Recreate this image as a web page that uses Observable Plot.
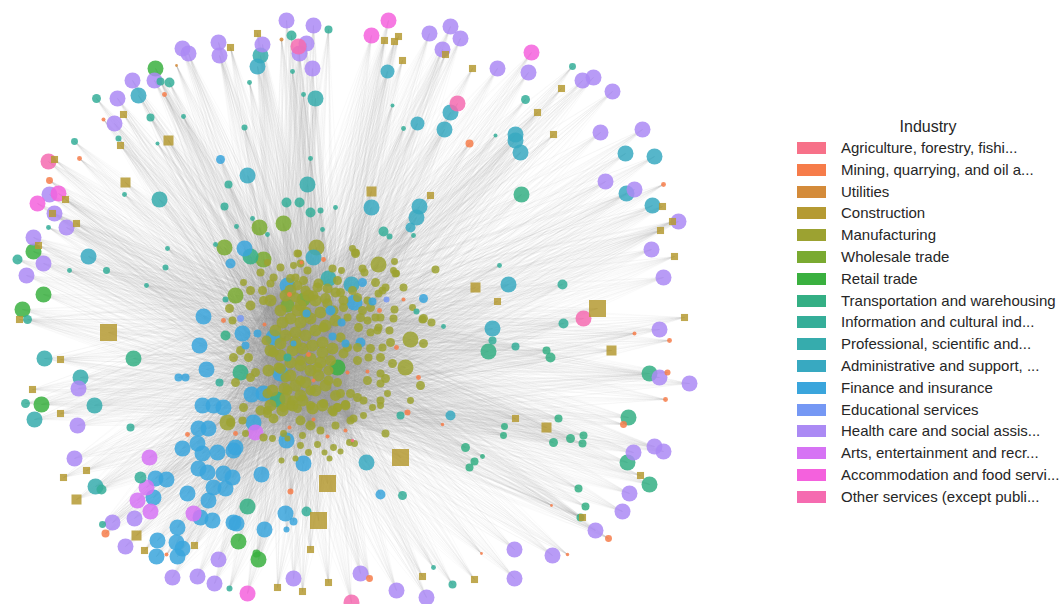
<!DOCTYPE html>
<html><head><meta charset="utf-8">
<script src="https://cdn.jsdelivr.net/npm/d3@7"></script>
<script src="https://cdn.jsdelivr.net/npm/@observablehq/plot@0.6"></script>
<style>
body{margin:0;background:#fff;font-family:"Liberation Sans",Arial,sans-serif;}
#wrap{position:relative;width:1062px;height:604px;overflow:hidden;}
#chart{position:absolute;left:0;top:0;}
#legend{position:absolute;left:0;top:0;width:1062px;height:604px;pointer-events:none;}
.ttl{position:absolute;left:797px;width:262px;text-align:center;font-size:16px;color:#262626;}
.row{position:absolute;left:797px;height:22px;line-height:22px;font-size:15px;color:#262626;white-space:nowrap;}
.sw{position:absolute;left:0;top:5px;width:29px;height:12px;}
.lb{position:absolute;left:44px;top:0;}
</style></head><body>
<div id="wrap"><div id="chart"></div><div id="legend"></div></div>
<script>
const industries = [
  "Agriculture, forestry, fishi...","Mining, quarrying, and oil a...","Utilities","Construction",
  "Manufacturing","Wholesale trade","Retail trade","Transportation and warehousing",
  "Information and cultural ind...","Professional, scientific and...","Administrative and support, ...",
  "Finance and insurance","Educational services","Health care and social assis...",
  "Arts, entertainment and recr...","Accommodation and food servi...","Other services (except publi..."
];
const colors = ["#f77189","#f67c4a","#d48b3a","#b59a32","#9ca231","#7aaa31","#3ab03f","#34af84",
  "#35ae99","#36acad","#38a9c1","#3aa5dc","#7598f4","#ab8af4","#d673f4","#f461dd","#f56bb0"];

// node layout: [x, y, weight]
const agriculture = [[352,440,3]];
const mining = [[164,94,6],[103,119,4],[79,158,6],[49,180,12],[469,143,16],[663,184,6],[634,333,4],[669,340,6],[667,372,9],[665,399,6],[623,424,12],[608,538,12],[105,533,16],[166,554,4],[290,491,9],[369,578,12],[407,412,9],[551,505,2],[567,554,3],[481,553,2],[223,320,6],[379,310,6],[308,354,6],[418,377,6],[323,259,6],[289,294,6],[301,262,4],[396,347,6],[347,372,4],[313,380,4],[367,371,4],[403,299,4],[264,324,4],[235,433,6],[327,436,4],[313,419,4],[289,427,4],[345,430,4],[442,424,3],[187,434,6]];
const utilities = [[281,39,4],[176,65,2]];
const construction = [[108,332,92],[597,308,92],[327,483,92],[400,457,92],[318,520,92],
  [168,140,32],[125,182,32],[76,499,32],[475,287,32],[546,427,32],[371,191,32],[136,535,32],[611,350,32],
  [230,47,16],[123,114,16],[120,145,16],[54,159,16],[65,199,16],[52,213,16],[76,223,16],[38,245,16],[19,319,16],[60,359,16],[32,389,16],[60,413,16],[86,470,16],[63,477,16],[144,550,16],[194,545,16],[257,33,16],[384,40,16],[398,36,16],[394,41,16],[402,60,16],[445,54,16],[430,195,16],[472,68,16],[561,88,16],[537,112,16],[553,134,16],[662,206,16],[672,221,16],[660,230,16],[674,256,16],[497,301,16],[684,317,16],[640,475,16],[582,517,16],[515,418,16],[474,579,16],[310,549,16],[277,587,16],[302,591,16],[328,582,16],[422,576,16]];
const manufacturing = [
  [270,300,36],[280,310,36],[290,318,36],[300,322,36],[310,318,36],[320,312,36],[315,300,36],[300,305,36],[285,295,36],
  [275,330,36],[285,335,36],[295,332,36],[305,335,36],[315,330,36],[325,325,36],[335,320,36],
  [270,350,36],[280,355,36],[292,350,36],[302,348,36],[312,345,36],[322,342,36],[332,348,36],
  [268,370,36],[280,368,30],[290,375,36],[300,365,36],[310,370,36],[320,362,36],[330,360,30],
  [272,390,36],[284,388,36],[295,385,36],[305,382,36],[315,390,36],[325,385,36],[335,395,30],
  [260,410,25],[270,405,36],[282,410,36],[292,405,36],[302,400,36],[312,408,36],[322,405,36],[332,410,25],[345,405,25],
  [300,420,25],[310,425,25],[320,430,16],[335,425,16],[350,420,16],
  [290,290,36],[305,312,36],[295,342,36],[310,358,36],[290,362,36],[318,375,36],[300,395,36],[282,322,36],[322,352,36],[308,295,36],[325,298,30],[297,310,36],[280,343,36],[285,398,36],
  [316,247,64],[378,264,64],[410,339,64],[405,367,64],[227,422,64],
  [298,253,12],[293,265,12],[307,270,16],[341,270,12],[355,253,20],[352,248,12],[364,272,16],[394,261,12],[393,270,12],[396,273,12],[375,282,20],[382,290,16],[403,287,16],[394,309,16],[393,318,16],[412,307,12],[423,318,20],[431,322,16],[435,269,16],[423,343,20],[420,385,20],[392,363,20],[385,378,20],[380,373,16],[387,393,12],[410,400,12],[368,357,16],[363,400,16],[350,393,20],[337,382,20],[328,370,25],[357,347,20],[343,353,25],[378,327,16],[382,347,16],[370,332,16],[358,327,20],[375,317,16],[367,300,16],[362,310,20],[343,300,25],[335,292,25],[327,288,25],[318,283,25],[313,295,25],[305,290,25],[297,285,25],[290,278,20],[270,283,16],[262,290,20],[263,300,20],[250,290,20],[243,282,12],[260,272,16],[273,277,16],[280,267,16],[267,262,12],[295,277,16],
  [290,405,20],[297,408,20],[310,405,20],[323,403,20],[337,407,20],[345,404,20],[333,412,16],[353,418,16],[363,415,12],[372,407,12],[380,405,12],[385,433,16],[267,410,20],[273,418,25],[263,437,16],[272,438,12],[300,445,12],[308,452,12],[317,444,12],[324,452,9],[333,447,12],[340,451,9],[349,442,12],[354,443,12],[329,458,9],[281,460,9],[295,458,9],[302,435,12],[245,433,12],[283,433,12],[287,438,9],[230,422,20],[242,420,16],
  [422,319,16],[389,330,16],[377,330,16],[367,320,16],[347,317,16],[229,308,20],[232,320,16],[233,357,20],[240,350,20],[248,357,20],[250,377,20],[235,382,20],[243,407,20],[255,372,20],[267,393,25],[278,367,25],[266,340,25],[273,352,25],[285,377,25],[287,390,25],[292,400,25],[295,297,25],[303,280,20],[317,287,25],[327,303,25],[333,310,25],[343,307,20],[360,317,20],[370,307,20],[380,317,16],[385,287,16],[395,273,16],[357,297,20],[352,290,20],[340,292,20],[332,268,16],[337,280,20],[300,263,16],[297,253,16],[355,252,16],[362,268,16],[378,293,16],[390,342,20],[380,357,20],[370,348,20],[357,360,20],[367,380,20],[380,383,16],[357,397,20],[380,400,16],[340,393,20],[337,407,20],[328,380,25],[317,367,25],[323,327,25],[340,337,25],[347,347,20],[300,360,25],[300,380,25],[310,390,25],[283,407,20],[267,413,20],[250,305,25]];
const wholesale = [[259,227,64],[283,223,64],[263,259,64],[224,247,64],[235,295,64],[303,299,49],[287,305,49]];
const retail = [[155,68,64],[33,251,64],[43,294,64],[22,309,64],[41,404,64],[238,541,64],[258,559,64],[256,553,16],[337,367,64]];
const transportation = [[521,194,64],[133,358,64],[250,256,64],[225,335,25],[488,351,64],[649,373,64],[247,506,64],[628,417,64],[627,462,64],[649,484,64],[558,418,16],[504,426,12],[503,435,12],[553,442,20],[570,438,20],[583,435,16],[582,443,16],[465,447,20],[474,461,16],[469,467,16],[482,456,6],[578,488,16],[585,506,16],[580,517,16],[240,372,64],[277,399,64],[546,350,16],[550,357,25]];
const information = [[96,98,20],[118,138,9],[157,143,4],[74,141,12],[150,117,16],[183,116,6],[124,194,6],[228,184,16],[169,82,25],[160,81,16],[291,35,25],[328,29,16],[292,71,6],[249,82,6],[303,94,6],[244,127,9],[310,158,6],[286,202,25],[299,202,25],[392,105,4],[403,128,6],[572,66,12],[525,99,20],[495,135,4],[48,227,6],[17,259,25],[69,270,6],[106,270,12],[167,248,6],[165,267,9],[146,285,6],[25,403,20],[130,427,16],[101,489,25],[102,524,12],[229,588,9],[433,567,6],[452,584,16],[400,415,16],[402,495,20],[306,511,25],[499,265,6],[562,284,25],[563,323,25],[515,346,16],[492,340,16],[443,326,6],[416,311,9],[224,206,16],[236,226,6],[215,244,6],[225,299,9],[219,382,16],[335,207,6],[320,210,9],[310,212,25],[252,218,6],[267,234,6],[322,229,6],[389,236,9],[413,235,6],[383,231,25],[287,357,16],[140,477,36],[27,319,20]];
const professional = [[159,199,64],[315,98,64],[307,184,64],[44,358,64],[80,377,64],[34,419,64],[94,405,64],[95,486,64],[328,278,64],[260,55,64]];
const administrative = [[138,95,64],[257,66,64],[247,175,64],[387,71,49],[450,112,64],[417,123,49],[444,129,64],[515,134,64],[515,140,64],[520,152,64],[625,153,64],[654,156,64],[626,193,64],[652,205,64],[88,256,64],[371,207,64],[419,206,64],[416,217,64],[410,227,25],[508,284,64],[492,328,64],[366,462,64],[450,415,25],[313,257,64],[351,284,64]];
const finance = [[220,159,20],[230,263,25],[203,316,64],[199,345,64],[206,369,64],[185,377,16],[178,377,16],[244,248,64],[287,285,64],[362,282,20],[354,302,64],[372,301,16],[423,298,20],[242,333,64],[273,337,64],[257,333,16],[245,345,16],[330,310,25],[306,313,16],[341,322,16],[332,336,16],[345,343,16],[360,342,25],[293,343,9],[280,373,64],[251,394,64],[263,393,64],[253,422,64],[286,440,64],[235,447,64],[303,463,64],[261,474,64],[380,494,25],[285,513,64],[293,521,16],[236,523,64],[264,529,64],[286,529,9],[155,478,64],[166,479,64],[153,497,64],[187,493,64],[157,540,64],[156,556,64],[176,542,64],[182,548,64],[177,556,64],[202,405,64],[213,405,64],[223,407,64],[208,428,64],[198,428,64],[182,448,64],[197,443,64],[202,453,64],[217,452,64],[233,450,64],[198,468,64],[207,472,64],[223,473,64],[232,477,64],[213,487,64],[225,488,64],[208,500,64],[200,517,64],[212,520,64],[233,522,64],[177,527,64]];
const educational = [[240,318,12],[386,299,9]];
const health = [[182,48,64],[188,53,64],[218,42,64],[219,55,64],[154,80,64],[132,80,64],[117,98,64],[114,123,64],[49,194,64],[286,20,64],[313,25,64],[262,44,64],[306,43,64],[299,53,64],[312,68,64],[429,33,64],[450,26,64],[460,38,64],[442,49,64],[497,68,64],[528,72,64],[582,80,64],[593,77,64],[612,91,64],[600,132,64],[642,129,64],[605,181,64],[634,189,64],[54,213,64],[66,227,64],[33,237,64],[43,263,64],[26,275,64],[78,388,64],[678,221,64],[651,249,64],[663,277,64],[659,329,64],[659,377,64],[689,383,64],[77,425,64],[74,458,64],[112,522,64],[134,518,64],[125,546,64],[218,559,64],[172,577,64],[197,576,64],[214,583,64],[293,578,64],[360,573,64],[396,590,64],[426,597,64],[633,452,64],[654,446,64],[663,451,64],[629,493,64],[622,511,64],[595,530,64],[514,549,64],[552,555,64],[514,578,64]];
const arts = [[149,457,64],[146,487,64],[137,500,64],[150,511,64],[193,513,64],[255,432,64]];
const accommodation = [[388,20,64],[371,35,64],[531,52,64],[58,193,64],[37,203,64],[247,593,64]];
const otherServices = [[48,161,64],[298,46,64],[457,103,64],[583,318,64],[351,602,64]];

// hub nodes (indices into manufacturing) that peripheral nodes link to
const hubs = [0,4,8,10,13,15,16,19,22,24,27,29,31,34,36,38,41,44,47,50];

const groups = [agriculture,mining,utilities,construction,manufacturing,wholesale,retail,transportation,
  information,professional,administrative,finance,educational,health,arts,accommodation,otherServices];

const nodes = [];
groups.forEach((arr,k) => arr.forEach(([x,y,w]) => nodes.push({x,y,w,industry:industries[k],square:k===3})));
const hubPts = hubs.map(i => manufacturing[i]);
const links = [];
nodes.forEach(n => hubPts.forEach(h => { if (h[0]!==n.x || h[1]!==n.y) links.push({x1:n.x,y1:n.y,x2:h[0],y2:h[1]}); }));

const chart = Plot.plot({
  width: 760, height: 604, margin: 0,
  x: {domain: [0, 760], axis: null},
  y: {domain: [0, 604], range: [0, 604], axis: null},
  r: {type: "sqrt", domain: [0, 64], range: [0, 8]},
  color: {domain: industries, range: colors},
  marks: [
    Plot.link(links, {x1:"x1", y1:"y1", x2:"x2", y2:"y2", stroke:"#999", strokeOpacity:0.09, strokeWidth:0.6}),
    Plot.dot(nodes.filter(d => !d.square), {x:"x", y:"y", r:"w", fill:"industry", fillOpacity:0.85, stroke:null}),
    Plot.dot(nodes.filter(d => d.square), {x:"x", y:"y", r:"w", fill:"industry", symbol:"square", fillOpacity:0.85, stroke:null})
  ]
});
document.getElementById("chart").appendChild(chart);

const leg = document.getElementById("legend");
const t = document.createElement("div");
t.className = "ttl"; t.style.top = "117px"; t.style.height = "20px"; t.style.lineHeight = "20px";
t.textContent = "Industry"; leg.appendChild(t);
industries.forEach((name, i) => {
  const r = document.createElement("div");
  r.className = "row"; r.style.top = (137 + i * 21.8) + "px";
  const s = document.createElement("div"); s.className = "sw"; s.style.background = colors[i];
  const l = document.createElement("div"); l.className = "lb"; l.textContent = name;
  r.appendChild(s); r.appendChild(l); leg.appendChild(r);
});
</script>
</body></html>
